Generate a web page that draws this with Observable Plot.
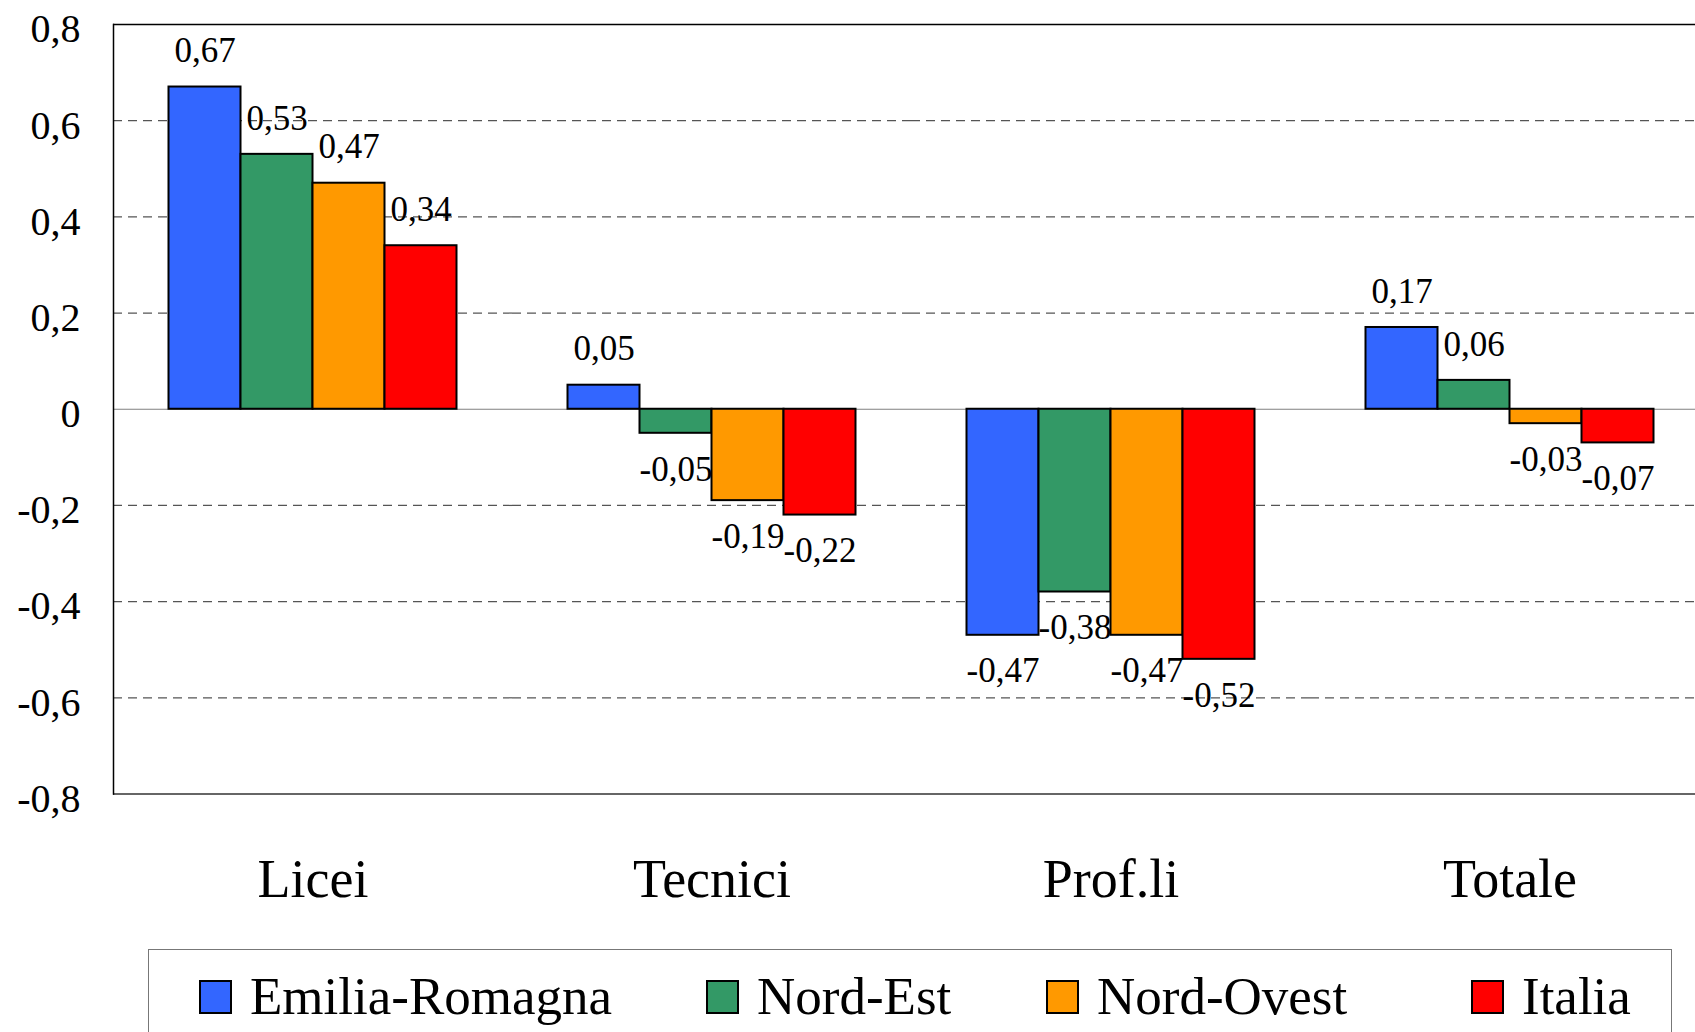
<!DOCTYPE html>
<html>
<head>
<meta charset="utf-8">
<script src="https://cdn.jsdelivr.net/npm/d3@7"></script>
<script src="https://cdn.jsdelivr.net/npm/@observablehq/plot@0.6"></script>
<style>
  html, body { margin: 0; padding: 0; background: #fff; }
  body { position: relative; width: 1695px; height: 1032px; overflow: hidden; font-family: "Liberation Serif", "Times New Roman", serif; }
  #chart svg { overflow: hidden; }
  #legend { position: absolute; left: 148px; top: 949px; width: 1524px; height: 110px; border: 1px solid #777; box-sizing: border-box; }
  .item { position: absolute; top: 20px; display: flex; align-items: center; font-size: 53px; line-height: 53px; color: #000; white-space: nowrap; }
  .sw { width: 33px; height: 34px; border: 2px solid #000; box-sizing: border-box; margin-right: 18px; }
</style>
</head>
<body>
<div id="chart"></div>
<div id="legend"></div>
<script>
const categories = ["Licei", "Tecnici", "Prof.li", "Totale"];
const series = ["Emilia-Romagna", "Nord-Est", "Nord-Ovest", "Italia"];
const colors = ["#3366FF", "#339966", "#FF9900", "#FF0000"];
const emiliaRomagna = [0.67, 0.05, -0.47, 0.17];
const nordEst = [0.53, -0.05, -0.38, 0.06];
const nordOvest = [0.47, -0.19, -0.47, -0.03];
const italia = [0.34, -0.22, -0.52, -0.07];
const yTicks = [-0.8, -0.6, -0.4, -0.2, 0, 0.2, 0.4, 0.6, 0.8];
const gridTicks = [-0.6, -0.4, -0.2, 0.2, 0.4, 0.6];

const valuesBySeries = [emiliaRomagna, nordEst, nordOvest, italia];
const data = [];
categories.forEach((c, i) => {
  series.forEach((s, j) => data.push({category: c, series: s, value: valuesBySeries[j][i]}));
});

const font = "'Liberation Serif', 'Times New Roman', serif";
const fmtTick = d => d === 0 ? "0" : d.toFixed(1).replace(".", ",");
const fmtVal = d => d.toFixed(2).replace(".", ",");

const chart = Plot.plot({
  width: 1695,
  height: 935,
  marginLeft: 112.5,
  marginRight: -13.5,
  marginTop: 24,
  marginBottom: 141.5,
  style: {fontFamily: font, background: "#fff", color: "#000", overflow: "hidden"},
  fx: {domain: categories, padding: 0, label: null},
  x: {domain: series, paddingInner: 0, paddingOuter: 0.745, axis: null},
  y: {domain: [-0.8, 0.8], axis: null},
  color: {domain: series, range: colors},
  marks: [
    Plot.ruleY(gridTicks, {stroke: "#555", strokeWidth: 1.2, strokeDasharray: "9,6"}),
    Plot.ruleY([0], {stroke: "#808080", strokeWidth: 1.2}),
    Plot.ruleY([-0.8], {stroke: "#333", strokeWidth: 1.5}),
    Plot.ruleY([0.8], {stroke: "#000", strokeWidth: 1.5}),
    Plot.frame({anchor: "left", facetAnchor: "left", stroke: "#000", strokeWidth: 1.5}),
    Plot.axisY({ticks: yTicks, tickFormat: fmtTick, tickSize: 0, tickPadding: 33, dy: 5, fontSize: 40, fill: "#000", label: null}),
    Plot.barY(data, {fx: "category", x: "series", y1: 0, y2: "value", fill: "series", stroke: "#000", strokeWidth: 2}),
    Plot.text(data.filter(d => d.value >= 0), {fx: "category", x: "series", y: "value", text: d => fmtVal(d.value), dy: -36, fontSize: 35, fill: "#000"}),
    Plot.text(data.filter(d => d.value < 0), {fx: "category", x: "series", y: "value", text: d => fmtVal(d.value), dy: 36, fontSize: 35, fill: "#000"}),
    Plot.axisFx({anchor: "bottom", tickSize: 0, tickPadding: 65, fontSize: 54, label: null, fill: "#000"})
  ]
});
document.getElementById("chart").appendChild(chart);

const legend = document.getElementById("legend");
const lefts = [50, 557, 897, 1322];
series.forEach((s, i) => {
  const item = document.createElement("div");
  item.className = "item";
  item.style.left = lefts[i] + "px";
  const sw = document.createElement("div");
  sw.className = "sw";
  sw.style.background = colors[i];
  const label = document.createElement("span");
  label.textContent = s;
  item.appendChild(sw);
  item.appendChild(label);
  legend.appendChild(item);
});
</script>
</body>
</html>
